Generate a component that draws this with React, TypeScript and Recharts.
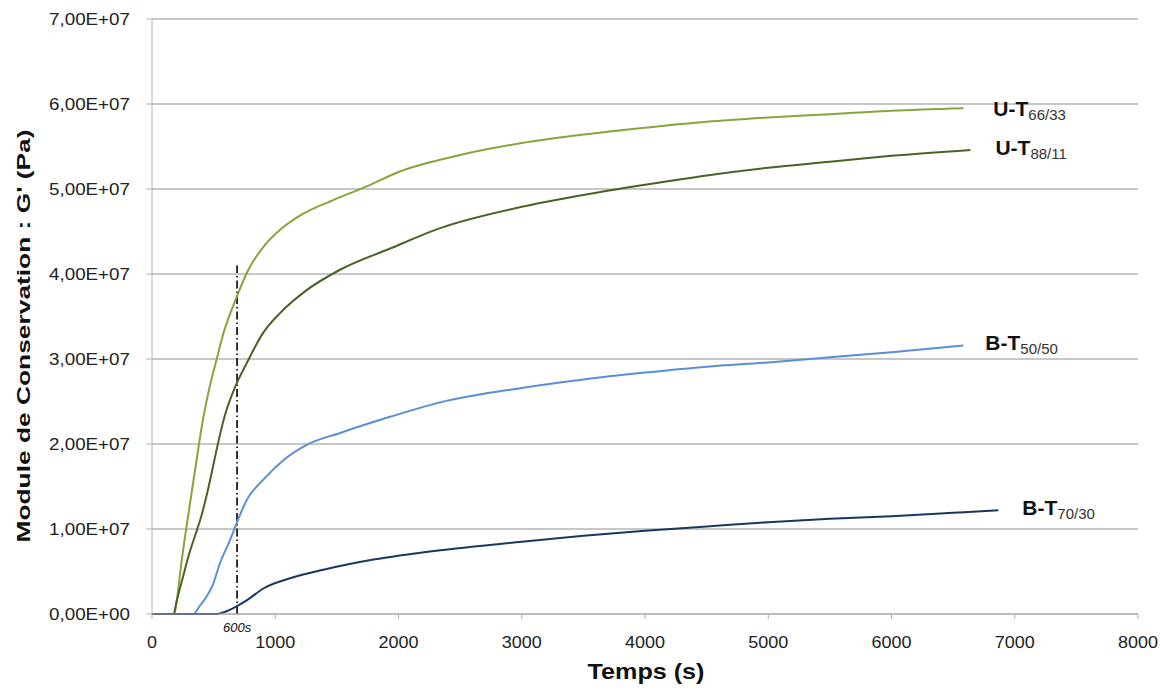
import { LineChart, Line, XAxis, YAxis, CartesianGrid, ReferenceLine } from 'recharts';

// times in s, G' in units of 1E+07 Pa
const uT6633 = [
  [0, 0], [180, 0], [195, 0.1], [240, 0.62], [303, 1.25], [376, 1.95], [403, 2.2], [460, 2.62],
  [525, 3.0], [579, 3.3], [687, 3.73], [782, 4.05], [904, 4.32], [1039, 4.52], [1228, 4.71],
  [1470, 4.87], [1742, 5.03], [2000, 5.2], [2500, 5.4], [3000, 5.54], [3500, 5.64], [4000, 5.72],
  [4500, 5.79], [5000, 5.84], [5500, 5.88], [6000, 5.92], [6583, 5.95],
];
const uT8811 = [
  [0, 0], [175, 0], [200, 0.15], [254, 0.45], [300, 0.7], [349, 0.92], [400, 1.15], [444, 1.4],
  [490, 1.7], [530, 1.97], [592, 2.34], [674, 2.67], [768, 2.95], [903, 3.31], [1039, 3.54],
  [1255, 3.81], [1526, 4.05], [1932, 4.3], [2338, 4.54], [3000, 4.79], [3500, 4.93], [4000, 5.05],
  [4500, 5.16], [5000, 5.25], [5500, 5.32], [6000, 5.39], [6640, 5.46],
];
const bT5050 = [
  [0, 0], [335, 0], [390, 0.1], [440, 0.2], [490, 0.33], [552, 0.6], [633, 0.87], [687, 1.07],
  [768, 1.34], [903, 1.58], [1066, 1.81], [1255, 1.99], [1526, 2.13], [1932, 2.32], [2338, 2.49],
  [3000, 2.66], [3500, 2.76], [4000, 2.84], [4500, 2.91], [5000, 2.96], [5500, 3.02], [6000, 3.08],
  [6583, 3.16],
];
const bT7030 = [
  [0, 0], [525, 0], [600, 0.03], [660, 0.07], [768, 0.16], [903, 0.3], [1120, 0.42], [1390, 0.52],
  [1797, 0.64], [2338, 0.75], [3000, 0.85], [3500, 0.92], [4000, 0.98], [4500, 1.03], [5000, 1.08],
  [5500, 1.12], [6000, 1.15], [6500, 1.19], [6867, 1.22],
];

const xTicks = [0, 1000, 2000, 3000, 4000, 5000, 6000, 7000, 8000];
const yTicks = [0, 1e7, 2e7, 3e7, 4e7, 5e7, 6e7, 7e7];
const markerTime = 690;
const markerTop = 4.1e7;

const toRows = (pts: number[][]) => pts.map(([t, g]) => ({ t, g: g * 1e7 }));

const series = [
  { key: 'u6633', name: 'U-T', sub: '66/33', pts: uT6633, color: '#88a43c', dx: 30, dy: 8 },
  { key: 'u8811', name: 'U-T', sub: '88/11', pts: uT8811, color: '#4b6226', dx: 25, dy: 5 },
  { key: 'b5050', name: 'B-T', sub: '50/50', pts: bT5050, color: '#5a8fd6', dx: 22, dy: 5 },
  { key: 'b7030', name: 'B-T', sub: '70/30', pts: bT7030, color: '#1b3760', dx: 24, dy: 5 },
];

const font = '"Liberation Sans", Arial, sans-serif';

const fmtY = (v: number) => (v === 0 ? '0,00E+00' : (v / 1e7).toFixed(2).replace('.', ',') + 'E+07');

const YTick = (p: any) => {
  const label = fmtY(p.payload.value);
  return (
    <text x={p.x} y={p.y} dy={6} textAnchor="end" fontSize={17} fill="#222"
      textLength={81} lengthAdjust="spacingAndGlyphs">
      {label}
    </text>
  );
};

const XTick = (p: any) => {
  const label = String(p.payload.value);
  return (
    <text x={p.x} y={p.y} dy={13} textAnchor="middle" fontSize={17} fill="#222"
      textLength={label.length * 10} lengthAdjust="spacingAndGlyphs">
      {label}
    </text>
  );
};

export default function App() {
  return (
    <div>
      <style>{`body{margin:0}`}</style>
      <LineChart
        width={1163}
        height={690}
        margin={{ top: 19, right: 25, left: 0, bottom: 0 }}
        style={{ fontFamily: font }}
      >
        <CartesianGrid vertical={false} stroke="#b5b5b5" strokeWidth={1.5} />
        <XAxis
          type="number"
          dataKey="t"
          domain={[0, 8000]}
          ticks={xTicks}
          height={76}
          stroke="#b0b0b0"
          tickSize={5}
          tickMargin={16}
          tick={<XTick />}
          label={{
            content: () => (
              <text x={646} y={679} textAnchor="middle" fontSize={22} fontWeight="bold" fill="#111"
                textLength={117} lengthAdjust="spacingAndGlyphs">
                Temps (s)
              </text>
            ),
          }}
        />
        <YAxis
          type="number"
          domain={[0, 7e7]}
          ticks={yTicks}
          width={152}
          stroke="#b0b0b0"
          tickSize={6}
          tickMargin={16}
          tick={<YTick />}
          label={{
            content: () => (
              <text x={30} y={336} transform="rotate(-90 30 336)" textAnchor="middle" fontSize={18}
                fontWeight="bold" fill="#111" textLength={413} lengthAdjust="spacingAndGlyphs">
                Module de Conservation : G' (Pa)
              </text>
            ),
          }}
        />
        <ReferenceLine
          segment={[{ x: markerTime, y: 0 }, { x: markerTime, y: markerTop }]}
          stroke="#000"
          strokeWidth={1.6}
          strokeDasharray="8 3 1.5 3"
          label={{
            content: (p: any) => {
              const vb = p.viewBox || {};
              const x = (vb.x ?? 0) + (vb.width ?? 0) / 2;
              const bottom = (vb.y ?? 0) + (vb.height ?? 0);
              return (
                <text x={x} y={bottom + 18} textAnchor="middle" fontSize={13} fontStyle="italic" fill="#111">
                  600s
                </text>
              );
            },
          }}
        />
        {series.map((s) => {
          const rows = toRows(s.pts);
          const last = rows.length - 1;
          return (
            <Line
              key={s.key}
              data={rows}
              dataKey="g"
              type="monotone"
              stroke={s.color}
              strokeWidth={2}
              dot={false}
              isAnimationActive={false}
              label={(p: any) =>
                p.index === last ? (
                  <text key={s.key + '-lbl'} x={p.x + s.dx} y={p.y + s.dy} fill="#111">
                    <tspan fontSize={21} fontWeight="bold">{s.name}</tspan>
                    <tspan fontSize={15} dy={4} fill="#333">{s.sub}</tspan>
                  </text>
                ) : null
              }
            />
          );
        })}
      </LineChart>
    </div>
  );
}
